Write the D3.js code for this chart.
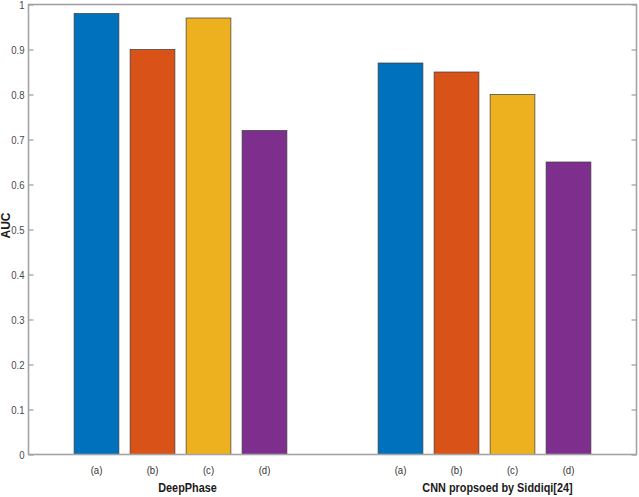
<!DOCTYPE html>
<html><head><meta charset="utf-8">
<script src="https://cdn.jsdelivr.net/npm/d3@7"></script>
<style>body{margin:0;background:#fff}svg{display:block}text{font-family:"Liberation Sans",Arial,sans-serif}</style>
</head><body><svg id="c" width="639" height="497"></svg>
<script>
const groups = ["DeepPhase", "CNN propsoed by Siddiqi[24]"];
const subLabels = ["(a)", "(b)", "(c)", "(d)"];
const deepPhase = [0.98, 0.90, 0.97, 0.72];
const cnnSiddiqi = [0.87, 0.85, 0.80, 0.65];
const yTicks = [0, 0.1, 0.2, 0.3, 0.4, 0.5, 0.6, 0.7, 0.8, 0.9, 1];
const colors = ["#0072BD", "#D95319", "#EDB120", "#7E2F8E"];
const seriesByGroup = [deepPhase, cnnSiddiqi];
const groupLabelShift = [7, 13];

const svg = d3.select("#c");
const L = 28.5, R = 636.5, T = 4.5, B = 454.5;
const x = d3.scaleBand().domain(groups).range([L, R]);
const inner = d3.scaleBand().domain(subLabels).range([0, 224]).paddingInner(0.2).paddingOuter(0.1);
const y = d3.scaleLinear().domain([0, 1]).range([B, T]);
const axisColor = "#a3a3a3";
const sx = 0.87;

groups.forEach((g, gi) => {
  const gx = x(g) + x.bandwidth() / 2 - 112;
  const gg = svg.append("g").attr("transform", `translate(${gx},0)`);
  gg.selectAll("rect").data(seriesByGroup[gi]).join("rect")
    .attr("x", (d, i) => inner(subLabels[i]))
    .attr("width", inner.bandwidth())
    .attr("y", d => y(d))
    .attr("height", d => y(0) - y(d))
    .attr("fill", (d, i) => colors[i])
    .attr("stroke", "#3a3a3a").attr("stroke-width", 0.7);
  gg.selectAll("g.sub").data(subLabels).join("g").attr("class", "sub")
    .attr("transform", d => `translate(${inner(d) + inner.bandwidth() / 2},474) scale(${sx},1)`)
    .append("text").attr("text-anchor", "middle")
    .attr("font-size", 11).attr("fill", "#333").text(d => d);
  svg.append("g").attr("transform", `translate(${x(g) + x.bandwidth() / 2 + groupLabelShift[gi]},492) scale(${sx},1)`)
    .append("text")
    .attr("text-anchor", "middle").attr("font-size", 12.5).attr("font-weight", "bold")
    .attr("fill", "#1a1a1a").text(g);
});

// box
svg.append("rect").attr("x", L).attr("y", T).attr("width", R - L).attr("height", B - T)
  .attr("fill", "none").attr("stroke", axisColor).attr("stroke-width", 1.6);

const yl = d3.axisLeft(y).tickValues(yTicks).tickSize(-5).tickPadding(4).tickFormat(d => d === 0 || d === 1 ? d3.format("d")(d) : d3.format(".1f")(d));
const ga = svg.append("g").attr("transform", `translate(${L},0)`).call(yl);
ga.select(".domain").remove();
ga.selectAll("line").attr("stroke", axisColor).attr("stroke-width", 1.3);
ga.selectAll("text").attr("font-size", 11).attr("fill", "#4a4a4a").attr("font-family", "Liberation Sans, Arial, sans-serif")
  .each(function() {
    const t = d3.select(this);
    const xv = +t.attr("x");
    t.attr("x", null).attr("transform", `translate(${xv},0) scale(${sx},1)`).attr("y", null);
  });

const yr = d3.axisRight(y).tickValues(yTicks).tickSize(-5).tickFormat("");
const gr = svg.append("g").attr("transform", `translate(${R},0)`).call(yr);
gr.select(".domain").remove();
gr.selectAll("line").attr("stroke", axisColor).attr("stroke-width", 1.3);

svg.append("g").attr("transform", `translate(9.5,${(T + B) / 2 - 4}) rotate(-90)`)
  .append("text")
  .attr("text-anchor", "middle").attr("font-size", 12).attr("font-weight", "bold")
  .attr("fill", "#1a1a1a").text("AUC");
</script></body></html>
